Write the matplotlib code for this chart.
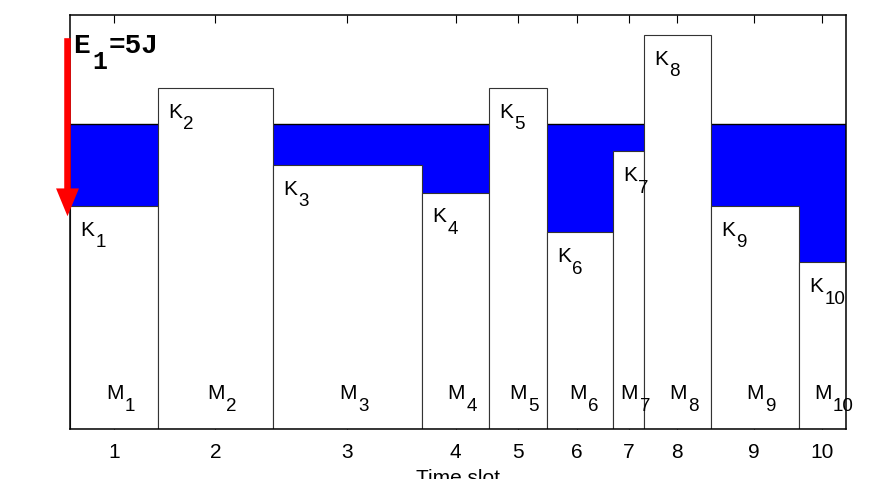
import numpy as np
import matplotlib
matplotlib.use("Agg")
import matplotlib.pyplot as plt
from matplotlib.patches import FancyArrowPatch

# slot widths (time) and energy levels per slot
widths = [8.8, 11.5, 14.9, 6.7, 5.8, 6.6, 3.1, 6.7, 8.8, 4.7]
heights = [5.39, 8.24, 6.38, 5.71, 8.24, 4.76, 6.71, 9.52, 5.39, 4.03]
level = 7.36
tick_pos = [4.4, 14.53, 27.73, 38.57, 44.77, 50.73, 55.87, 60.7, 68.4, 75.2]
slot_labels = [str(i) for i in range(1, 11)]
arrow_top, arrow_tip = 9.44, 5.14

plt.rcParams['font.family'] = ['Liberation Sans', 'DejaVu Sans']

lefts = np.concatenate([[0], np.cumsum(widths)[:-1]])
total = sum(widths)

fig = plt.figure(figsize=(8.78, 4.79), dpi=100)
ax = fig.add_axes([70/878, 50/479, 776/878, 414/479])
renderer = fig.canvas.get_renderer()


# MATLAB-like subscript: nearly full size, dropped well below the baseline
def sub_label(x, y, main, sub, size=15, drop=8.5, gap=1.0, sub_size=None, rest=None, **kw):
    t = ax.text(x, y, main, fontsize=size, ha='left', va='baseline', zorder=6, **kw)
    w = t.get_window_extent(renderer=renderer).width * 72 / fig.dpi
    ss = sub_size or size * 0.9
    s = ax.annotate(sub, (x, y), xytext=(w + gap, -drop), textcoords='offset points',
                    fontsize=ss, ha='left', va='baseline', zorder=6, **kw)
    if rest:
        ws = s.get_window_extent(renderer=renderer).width * 72 / fig.dpi
        ax.annotate(rest, (x, y), xytext=(w + gap + ws + gap, 0), textcoords='offset points',
                    fontsize=size, ha='left', va='baseline', zorder=6, **kw)


# blue band up to the energy level, then white slots on top
ax.bar(lefts, [level]*len(widths), widths, align='edge', color='#0000ff',
       edgecolor='none', zorder=1)
ax.axhline(level, color='black', lw=1.0, zorder=1.5)
ax.bar(lefts, heights, widths, align='edge', color='white',
       edgecolor='#333333', lw=0.8, zorder=2)

ax.set_xlim(0, total)
ax.set_ylim(0, 10)

for i in range(len(widths)):
    sub_label(lefts[i] + 1.0, heights[i] - 0.72, 'K', str(i + 1))
    sub_label(tick_pos[i] - 0.8, 0.72, 'M', str(i + 1))

ax.set_xticks(tick_pos)
ax.set_xticklabels(slot_labels, fontsize=15)
ax.set_yticks([])
ax.tick_params(axis='x', direction='in', length=5.5, width=0.8, top=True, pad=10)
for s in ax.spines.values():
    s.set_linewidth(1.1)
    s.set_zorder(4)
ax.set_xlabel('Time slot', fontsize=15, labelpad=5)

# energy arrow
arr = FancyArrowPatch((-0.25, arrow_top), (-0.25, arrow_tip),
                      arrowstyle='simple,head_length=20,head_width=16.5,tail_width=4.7',
                      mutation_scale=1, color='red', lw=0, clip_on=False, zorder=5,
                      shrinkA=0, shrinkB=0)
ax.add_patch(arr)
sub_label(0.33, 9.09, 'E', '1', size=20, sub_size=18, drop=12, gap=1.5, rest='=5J',
          family='Liberation Mono', weight='bold')

fig.savefig('out.png', dpi=100, facecolor='white')
